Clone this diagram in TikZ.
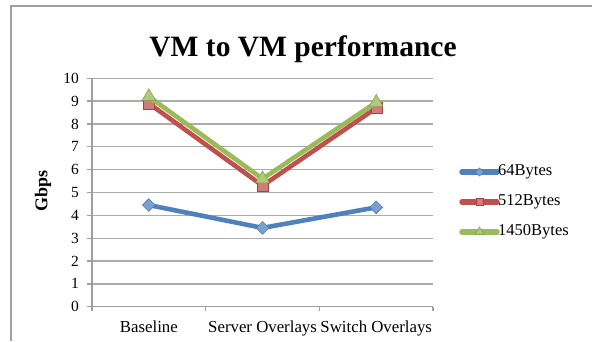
\documentclass[tikz,border=0pt]{standalone}
\usepackage{fontspec}
\setmainfont{Liberation Serif}
\usetikzlibrary{shapes.geometric, positioning, calc}
\definecolor{sblue}{HTML}{4F81BD}
\definecolor{sred}{HTML}{C0504D}
\definecolor{sgreen}{HTML}{9BBB59}
\tikzset{%
	frame/.style={draw=gray!75, line width=1.3pt},
	grid/.style={draw=gray!65, line width=1.3pt},
	axis/.style={draw=gray!75, line width=1.3pt},
	series/.style={line width=4.6pt, line join=round, line cap=round},
	dmark/.style={diamond, draw=sblue!85!black, fill=sblue!75!white, minimum size=13pt, inner sep=0pt},
	smark/.style={rectangle, draw=sred!85!black, fill=sred!75!white, minimum size=11pt, inner sep=0pt},
	tmark/.style={isosceles triangle, isosceles triangle apex angle=60, shape border rotate=90,%
		draw=sgreen!80!black, fill=sgreen!80!white, minimum size=12pt, inner sep=0pt},
	title/.style={font=\fontsize{29.5}{34}\selectfont\bfseries, anchor=base},
	lbl/.style={font=\fontsize{15.5}{18}\selectfont},
	catlbl/.style={font=\fontsize{16.8}{19}\selectfont, anchor=base}
}

\begin{document}
\begin{tikzpicture}[x=1pt, y=1pt, lbl]
	\useasboundingbox (0,0) rectangle (592,341);
	\draw[frame] (11,0) |- (592,335);
	\node[title] (ttl) at (303,284) {VM to VM performance};
	\node[rotate=90, font=\fontsize{18}{20}\selectfont\bfseries] (ylab) at (43,150) {Gbps};

	\begin{scope}[shift={(92,34.3)}, x=113.7pt, y=22.84pt]
		% grid and axes
		\foreach \v in {1,...,10}
			\draw[grid] (0,\v) -- (3,\v);
		\draw[axis] (0,0) -- (0,10);
		\draw[axis] (0,0) -- (3,0);
		\foreach \v in {0,...,10} {
			\draw[axis] (-0.044,\v) -- (0,\v);
			\node[anchor=east, inner sep=0pt] (t\v) at (-0.114,\v) {\v};
		}
		\foreach \c in {0,...,3}
			\draw[axis] (\c,0) -- (\c,-0.18);
		\foreach \c/\t [count=\i] in {0.5/Baseline, 1.5/Server Overlays, 2.5/Switch Overlays}
			\node[catlbl] (cat\i) at (\c,-1.15) {\t};

		% data points
		\coordinate (a1) at (0.5,4.45);
		\coordinate (a2) at (1.5,3.45);
		\coordinate (a3) at (2.5,4.35);
		\coordinate (b1) at (0.5,8.9);
		\coordinate (b2) at (1.5,5.3);
		\coordinate (b3) at (2.5,8.7);
		\coordinate (c1) at (0.5,9.2);
		\coordinate (c2) at (1.5,5.6);
		\coordinate (c3) at (2.5,8.95);

		\draw[series, sblue] (a1) -- (a2) -- (a3);
		\foreach \p in {a1,a2,a3} \node[dmark] at (\p) {};
		\draw[series, sred] (b1) -- (b2) -- (b3);
		\foreach \p in {b1,b2,b3} \node[smark] at (\p) {};
		\draw[series, sgreen] (c1) -- (c2) -- (c3);
		\foreach \p in {c1,c2,c3} \node[tmark] at (\p) {};
	\end{scope}

	% legend
	\foreach \y/\col/\mk/\t [count=\i] in {169/sblue/dmark/64Bytes, 139/sred/smark/512Bytes, 109/sgreen/tmark/1450Bytes} {
		\coordinate (k\i a) at (462,\y);
		\coordinate (k\i b) at (497,\y);
		\draw[series, line width=5.5pt, \col] (k\i a) -- (k\i b);
		\node[\mk, scale=0.65] (km\i) at ($(k\i a)!0.5!(k\i b)$) {};
		\node[anchor=west, inner sep=1pt, font=\fontsize{16.5}{19}\selectfont] (kt\i) at (k\i b) {\t};
	}
\end{tikzpicture}
\end{document}
